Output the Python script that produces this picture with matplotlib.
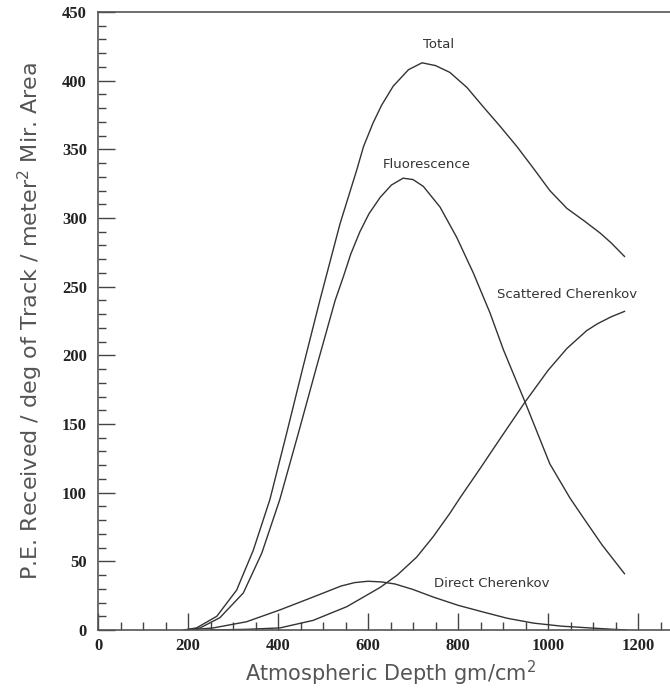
import numpy as np
from matplotlib import pyplot as plt
from matplotlib.ticker import MultipleLocator

# Kurvor
total_x = [190, 219, 264, 308, 345, 382, 419, 456, 493, 538, 575, 590, 611, 630, 656, 690, 720,
           750, 782, 820, 856, 893, 931, 968, 1004, 1042, 1080, 1116, 1140, 1170]
total_y = [0, 1.5, 10, 29, 58, 95, 143, 192, 240, 296, 335, 352, 369, 382, 396, 408, 413,
           411, 406, 395, 381, 367, 352, 336, 320, 307, 298, 289, 282, 272]

fluor_x = [195, 227, 271, 323, 364, 404, 445, 486, 527, 545, 562, 582, 602, 627, 652, 678, 700,
           723, 760, 797, 834, 871, 901, 949, 1004, 1049, 1078, 1120, 1170]
fluor_y = [0, 1.5, 9, 27, 56, 95, 143, 192, 240, 257, 274, 290, 303, 315, 324, 329, 328,
           323, 308, 286, 260, 231, 204, 166, 121, 96, 82, 62, 41]

scat_x = [250, 330, 404, 478, 553, 627, 665, 708, 745, 782, 804, 850, 893, 949, 1000, 1042, 1086,
          1110, 1140, 1170]
scat_y = [0, 0.5, 1.5, 7, 17, 31, 40, 53, 68, 85, 96, 118, 139, 166, 189, 205, 218,
          223, 228, 232]

direct_x = [200, 256, 330, 404, 478, 540, 570, 600, 630, 660, 700, 745, 800, 857, 910, 968, 1030,
            1093, 1140, 1175]
direct_y = [0, 1.5, 6, 14.6, 24, 32, 34.5, 35.5, 35, 33.5, 29.5, 24, 18, 13, 8.5, 5, 2.8,
            1.5, 0.6, 0]

labels = ["Total", "Fluorescence", "Scattered Cherenkov", "Direct Cherenkov"]
label_pos = [(756, 426, "center"), (731, 339, "center"), (887, 244, "left"), (747, 34, "left")]

fig = plt.figure(figsize=(6.7, 6.91), dpi=100)
ax = fig.add_axes([98/670, 61/691, 585/670, 618/691])

for xs, ys in [(total_x, total_y), (fluor_x, fluor_y), (scat_x, scat_y), (direct_x, direct_y)]:
    ax.plot(xs, ys, color="#333333", linewidth=1.0)

for txt, (lx, ly, ha) in zip(labels, label_pos):
    ax.text(lx, ly, txt, ha=ha, va="center", fontsize=9.5, color="#333333",
            family="DejaVu Sans")

ax.set_xlim(0, 1300)
ax.set_ylim(0, 450)
ax.xaxis.set_major_locator(MultipleLocator(200))
ax.xaxis.set_minor_locator(MultipleLocator(50))
ax.yaxis.set_major_locator(MultipleLocator(50))
ax.yaxis.set_minor_locator(MultipleLocator(10))
ax.tick_params(which="both", direction="in", top=False, right=False, color="#444444")
ax.tick_params(which="major", length=12, width=1)
ax.tick_params(which="minor", length=6, width=1)
ax.spines["right"].set_visible(False)
for s in ["left", "bottom", "top"]:
    ax.spines[s].set_color("#555555")
    ax.spines[s].set_linewidth(1.2)

for lab in ax.get_xticklabels() + ax.get_yticklabels():
    lab.set_family("Liberation Serif")
    lab.set_fontweight("bold")
    lab.set_fontsize(12)
    lab.set_color("#222222")
ax.tick_params(axis="x", pad=6)
ax.tick_params(axis="y", pad=8)

ax.set_xlabel("Atmospheric Depth gm/cm$^2$", fontsize=15, color="#555555", family="DejaVu Sans",
              labelpad=3)
ax.set_ylabel("P.E. Received / deg of Track / meter$^2$ Mir. Area", fontsize=16,
              color="#555555", family="DejaVu Sans", labelpad=12)

plt.savefig("out.png", dpi=100)
